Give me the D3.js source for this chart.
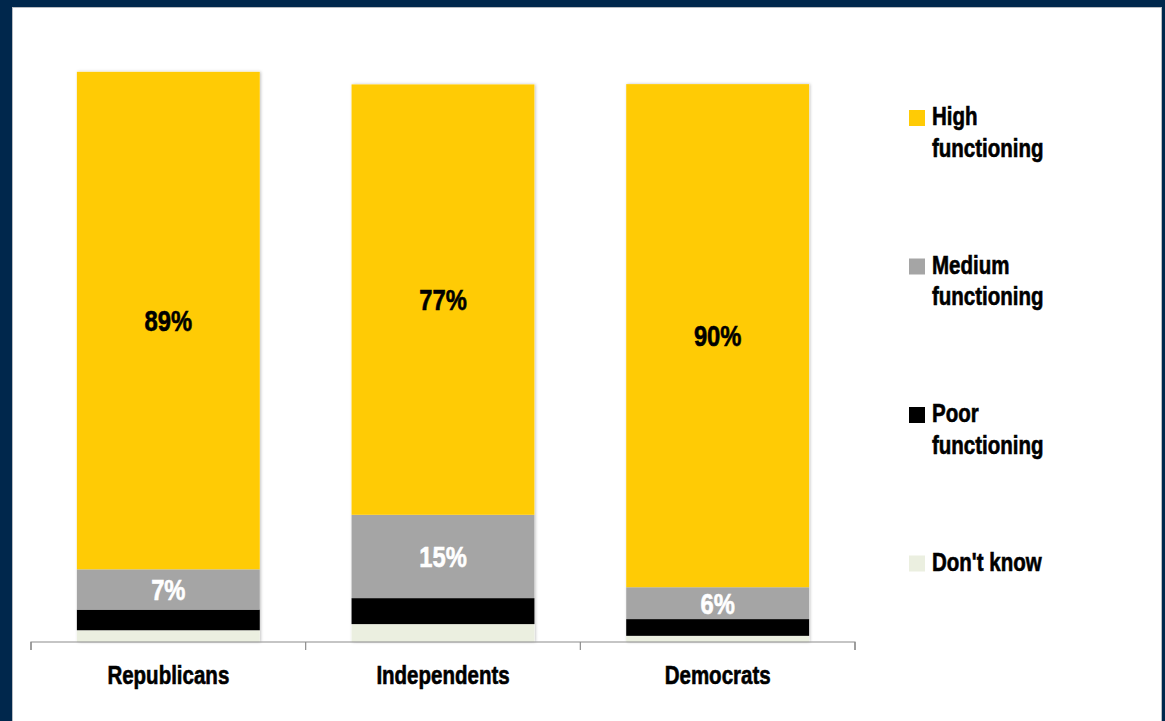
<!DOCTYPE html>
<html>
<head>
<meta charset="utf-8">
<script src="https://cdn.jsdelivr.net/npm/d3@7"></script>
<style>
  html, body { margin: 0; padding: 0; background: #00274C; }
  svg { display: block; }
  .lbl { font-family: "Liberation Sans", Arial, sans-serif; font-weight: bold; }
</style>
</head>
<body>
<script>
const categories = ["Republicans", "Independents", "Democrats"];
const seriesNames = ["High functioning", "Medium functioning", "Poor functioning", "Don't know"];
const legendLines = [["High", "functioning"], ["Medium", "functioning"], ["Poor", "functioning"], ["Don't know"]];
const highValues = [89, 77, 90];
const mediumValues = [7.2, 14.9, 5.7];
const poorValues = [3.7, 4.65, 3.0];
const dontKnowValues = [2.1, 3.2, 1.1];
const seriesColors = ["#FFCB05", "#A5A5A5", "#000000", "#EBEFE0"];
const labelColors = ["#000000", "#FFFFFF", null, null];

const W = 1165, H = 721;
const SX = 0.82; // horizontal condensing of the bold labels
const svg = d3.select("body").append("svg").attr("width", W).attr("height", H);

// frame
svg.append("rect").attr("x", 0).attr("y", 0).attr("width", W).attr("height", H).attr("fill", "#00274C");
svg.append("rect").attr("x", 12).attr("y", 7).attr("width", 1150).attr("height", H).attr("fill", "#B8BCC2");
svg.append("rect").attr("x", 13).attr("y", 8).attr("width", 1148).attr("height", H).attr("fill", "#FFFFFF");

const defs = svg.append("defs");
const f = defs.append("filter").attr("id", "shadow").attr("x", "-10%").attr("y", "-10%").attr("width", "120%").attr("height", "120%");
f.append("feDropShadow").attr("dx", 1).attr("dy", 0).attr("stdDeviation", 1.5).attr("flood-color", "#000").attr("flood-opacity", 0.25);

const rows = categories.map((c, i) => ({
  cat: c,
  "High functioning": highValues[i],
  "Medium functioning": mediumValues[i],
  "Poor functioning": poorValues[i],
  "Don't know": dontKnowValues[i]
}));
const stackOrder = seriesNames.slice().reverse();
const stacked = d3.stack().keys(stackOrder)(rows);

const x = d3.scaleBand().domain(categories).range([31, 855]).paddingInner(0).paddingOuter(0);
const y = d3.scaleLinear().domain([0, 100]).range([642, 83]);
const barW = x.bandwidth() * 0.666;
const color = d3.scaleOrdinal().domain(seriesNames).range(seriesColors);

function condensedText(parent, tx, ty, size, fill, anchor, lines, lineH) {
  const g = parent.append("g").attr("transform", `translate(${tx},${ty}) scale(${SX},1)`);
  const t = g.append("text").attr("class", "lbl").attr("font-size", size).attr("fill", fill)
    .attr("stroke", fill).attr("stroke-width", 0.6)
    .attr("text-anchor", anchor);
  if (Array.isArray(lines)) {
    lines.forEach((ln, li) => t.append("tspan").attr("x", 0).attr("dy", li === 0 ? 0 : lineH).text(ln));
  } else {
    t.attr("x", 0).attr("dy", "0.36em").text(lines);
  }
  return t;
}

const barsG = svg.append("g");
categories.forEach((c, ci) => {
  const top = y(d3.sum(stackOrder, k => rows[ci][k]));
  barsG.append("rect")
    .attr("x", x(c) + (x.bandwidth() - barW) / 2)
    .attr("y", top)
    .attr("width", barW)
    .attr("height", y(0) - top)
    .attr("fill", "#fff")
    .attr("filter", "url(#shadow)");
});

stacked.forEach(layer => {
  const g = barsG.append("g").attr("fill", color(layer.key));
  g.selectAll("rect").data(layer).join("rect")
    .attr("x", d => x(d.data.cat) + (x.bandwidth() - barW) / 2)
    .attr("y", d => y(d[1]))
    .attr("width", barW)
    .attr("height", d => y(d[0]) - y(d[1]));
});

// data labels for High and Medium
const labG = svg.append("g");
stacked.forEach(layer => {
  const si = seriesNames.indexOf(layer.key);
  const lc = labelColors[si];
  if (!lc) return;
  layer.forEach(d => {
    condensedText(labG, x(d.data.cat) + x.bandwidth() / 2, (y(d[0]) + y(d[1])) / 2, 29, lc, "middle",
      Math.round(d[1] - d[0]) + "%");
  });
});

// x axis
const axis = d3.axisBottom(x).tickSize(8).tickSizeOuter(8).tickFormat("");
const axG = svg.append("g").attr("transform", "translate(0,642)").call(axis);
axG.selectAll(".tick").remove();
axG.select(".domain").attr("stroke", "#8C8C8C").attr("stroke-width", 1.2)
  .attr("d", `M${x.range()[0]},8V0H${x.range()[1]}V8`);
const boundaries = categories.map(c => x(c)).concat([x.range()[1]]);
axG.selectAll(".btick").data(boundaries).join("line")
  .attr("x1", d => d).attr("x2", d => d).attr("y1", 0).attr("y2", 8)
  .attr("stroke", "#8C8C8C").attr("stroke-width", 1.2);
const catG = svg.append("g");
categories.forEach(c => {
  condensedText(catG, x(c) + x.bandwidth() / 2, 684, 25, "#000", "middle", [c], 0);
});

// legend
const lg = svg.append("g");
seriesNames.forEach((s, i) => {
  const gy = 110 + i * 148.5;
  lg.append("rect").attr("x", 909).attr("y", gy).attr("width", 16).attr("height", 16).attr("fill", color(s));
  condensedText(lg, 932, gy + 15, 25, "#000", "start", legendLines[i], 32);
});
</script>
</body>
</html>
